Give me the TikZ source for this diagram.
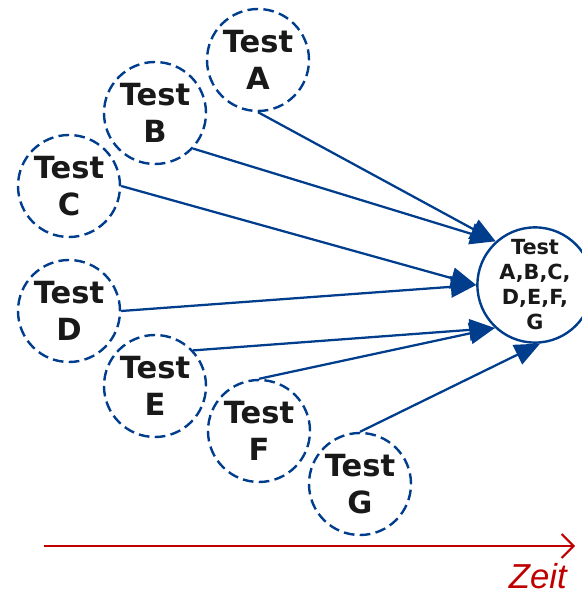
\documentclass[tikz,border=0pt]{standalone}
\usepackage{fontspec}
\setmainfont{DejaVu Sans}
\newfontfamily\zeitfont{Liberation Sans}
\usetikzlibrary{arrows.meta}
\definecolor{testblue}{RGB}{0,61,140}
\definecolor{zeitred}{RGB}{192,0,0}
\begin{document}
\begin{tikzpicture}[x=0.75pt, y=0.75pt,
    testcircle/.style={circle, draw=testblue, line width=1.8pt,
        dash pattern=on 8pt off 4pt, minimum size=76.5pt, inner sep=0pt,
        align=center, text=black!90,
        font=\fontsize{22.9}{27.75}\selectfont\bfseries},
    allcircle/.style={circle, draw=testblue, line width=1.8pt,
        minimum size=73.5pt, inner sep=0pt, align=center, text=black!90,
        font=\fontsize{15.6}{18.75}\selectfont\bfseries},
    testarrow/.style={draw=testblue, line width=1.7pt,
        -{Triangle[length=19pt, width=16pt]}}]
    \useasboundingbox (0,0) rectangle (582,597);

    \node[testcircle] (testA) at (258,537) {Test\\A};
    \node[testcircle] (testB) at (155,484) {Test\\B};
    \node[testcircle] (testC) at (69,411)  {Test\\C};
    \node[testcircle] (testD) at (69,286)  {Test\\D};
    \node[testcircle] (testE) at (155,211) {Test\\E};
    \node[testcircle] (testF) at (259,166) {Test\\F};
    \node[testcircle] (testG) at (360,113) {Test\\G};

    \node[allcircle] (testAll) at (535,312) {Test\\A,B,C,\\D,E,F,\\G};

    \draw[testarrow] (testA.south) -- (testAll.132);
    \draw[testarrow] (testB.-43)   -- (testAll.132);
    \draw[testarrow] (testC.east)  -- (testAll.180);
    \draw[testarrow] (testD.east)  -- (testAll.180);
    \draw[testarrow] (testE.43)    -- (testAll.227);
    \draw[testarrow] (testF.north) -- (testAll.227);
    \draw[testarrow] (testG.north) -- (testAll.275);

    % time axis
    \coordinate (zeitStart) at (44,51);
    \coordinate (zeitEnd) at (575,51);
    \draw[zeitred, line width=1.5pt, -{Straight Barb[length=9pt, width=18pt]}]
        (zeitStart) -- (zeitEnd);
    \node[zeitred, anchor=base east, inner sep=0pt,
        font=\zeitfont\itshape\fontsize{26}{30}\selectfont] (zeit) at (567,8) {Zeit};
\end{tikzpicture}
\end{document}
